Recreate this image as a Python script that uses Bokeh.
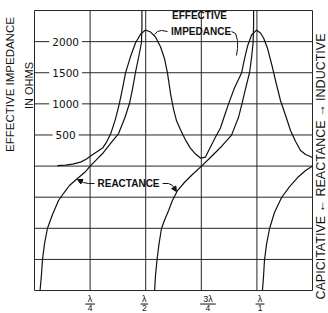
import math
from bokeh.plotting import figure
from bokeh.models import Range1d, Arrow, NormalHead
from bokeh.core.properties import value
from bokeh.embed import file_html
from bokeh.resources import INLINE

# ---------------- data (antenna length in wavelengths, ohms) ----------------
x_grid = [0.0, 0.25, 0.5, 0.75, 1.0, 1.25]
y_grid = [-2000, -1500, -1000, -500, 0, 500, 1000, 1500, 2000, 2500]

x_ticks = [0.25, 0.5, 0.75, 1.0]
x_tick_num = ["λ", "λ", "3λ", "λ"]
x_tick_den = ["4", "2", "4", "1"]

y_ticks = [2000, 1500, 1000, 500]
y_tick_labels = ["2000", "1500", "1000", "500"]

# effective impedance
imp_len = [0.103, 0.139, 0.171, 0.207, 0.234, 0.252, 0.279, 0.306, 0.324, 0.342,
           0.364, 0.382, 0.396, 0.409, 0.431, 0.454, 0.477, 0.499, 0.522, 0.544,
           0.567, 0.585, 0.598, 0.612, 0.625, 0.639, 0.657, 0.679, 0.701, 0.724,
           0.746, 0.769, 0.782, 0.814, 0.836, 0.854, 0.872, 0.899, 0.931, 0.944,
           0.958, 0.976, 0.998, 1.016, 1.030, 1.048, 1.070, 1.088, 1.106, 1.129,
           1.151, 1.174, 1.196, 1.219, 1.250]
imp_ohm = [8, 16, 32, 64, 113, 161, 225, 289, 386, 514,
           755, 1013, 1254, 1495, 1752, 1977, 2121, 2186, 2154, 2074,
           1913, 1720, 1495, 1157, 916, 723, 579, 418, 289, 193,
           129, 145, 241, 466, 611, 804, 996, 1254, 1495, 1720,
           1929, 2106, 2186, 2138, 2058, 1889, 1584, 1311, 1054, 813,
           571, 395, 250, 186, 138]

# reactance, three branches
react1_len = [0.025, 0.031, 0.036, 0.045, 0.058, 0.081, 0.108, 0.130, 0.157, 0.193,
              0.225, 0.250, 0.279, 0.306, 0.342, 0.378, 0.405, 0.427, 0.441, 0.454,
              0.468, 0.481, 0.483, 0.483]
react1_ohm = [-2000, -1759, -1502, -1245, -1003, -778, -553, -441, -312, -200,
              -104, 0, 105, 202, 363, 523, 764, 1005, 1246, 1504,
              1745, 1986, 2243, 2500]

react2_len = [0.540, 0.544, 0.551, 0.560, 0.571, 0.584, 0.603, 0.620, 0.643, 0.674,
              0.710, 0.751, 0.791, 0.836, 0.886, 0.917, 0.933, 0.949, 0.967, 0.976,
              0.983, 0.985, 0.985]
react2_ohm = [-2000, -1759, -1502, -1245, -1003, -875, -714, -553, -393, -264,
              -136, 0, 138, 298, 498, 780, 1005, 1246, 1504, 1745,
              1986, 2243, 2500]

react3_len = [1.025, 1.030, 1.034, 1.043, 1.057, 1.079, 1.111, 1.147, 1.183, 1.219, 1.250]
react3_ohm = [-2000, -1759, -1518, -1261, -1003, -746, -505, -329, -184, -71, 0]

# ---------------- figure ----------------
FONT = "Liberation Sans"
INK = "#111111"

p = figure(width=328, height=313,
           x_range=Range1d(-0.1529, 1.3219), y_range=Range1d(-2369, 2661),
           output_backend="svg", toolbar_location=None,
           x_axis_location=None, y_axis_location=None,
           min_border=0, background_fill_color="white", border_fill_color="white")
p.outline_line_color = None
p.grid.visible = False

# grid + frame
ny = len(y_grid)
nx = len(x_grid)
p.segment(x0=x_grid, y0=[y_grid[0]] * nx, x1=x_grid, y1=[y_grid[-1]] * nx,
          line_color="#262626", line_width=1)
p.segment(x0=[x_grid[0]] * ny, y0=y_grid, x1=[x_grid[-1]] * ny, y1=y_grid,
          line_color="#262626", line_width=1)

# y tick labels inside the frame, breaking the grid lines
p.text(x=[0.14] * len(y_ticks), y=y_ticks, text=y_tick_labels,
       text_align="center", text_baseline="middle",
       text_font=value("DejaVu Sans"), text_font_size="10.5px", text_color=INK,
       background_fill_color="white", padding=3)

# curves
p.line(imp_len, imp_ohm, line_color=INK, line_width=1.2)
p.line(react1_len, react1_ohm, line_color=INK, line_width=1.2)
p.line(react2_len, react2_ohm, line_color=INK, line_width=1.2)
p.line(react3_len, react3_ohm, line_color=INK, line_width=1.2)

# x tick labels as fractions below the frame
num_off = [0.0, -0.006, 0.03, 0.014]
bar_half = [0.022, 0.017, 0.035, 0.02]
xc = [t + o for t, o in zip(x_ticks, num_off)]
p.text(x=xc, y=[-2144] * 4, text=x_tick_num, text_align="center", text_baseline="middle",
       text_font=value(FONT), text_font_size="9px", text_color=INK)
p.segment(x0=[c - h for c, h in zip(xc, bar_half)], y0=[-2217] * 4,
          x1=[c + h for c, h in zip(xc, bar_half)], y1=[-2217] * 4,
          line_color=INK, line_width=1)
p.text(x=xc, y=[-2281] * 4, text=x_tick_den, text_align="center", text_baseline="middle",
       text_font=value(FONT), text_font_size="8.5px", text_color=INK)

# annotations
p.text(x=[0.742], y=[2420], text=["EFFECTIVE"], text_align="center", text_baseline="middle",
       text_font=value(FONT), text_font_size="10px", text_font_style="bold", text_color=INK)
p.text(x=[0.749], y=[2163], text=["IMPEDANCE"], text_align="center", text_baseline="middle",
       text_font=value(FONT), text_font_size="10px", text_font_style="bold", text_color=INK)
p.text(x=[0.4227], y=[-280], text=["REACTANCE"], text_align="center", text_baseline="middle",
       text_font=value(FONT), text_font_size="10px", text_font_style="bold", text_color=INK)

# leader lines
p.line([0.598, 0.571, 0.553, 0.540], [2163, 2179, 2163, 2114], line_color=INK, line_width=1)
p.line([0.886, 0.904, 0.913, 0.913, 0.908], [2163, 2130, 2018, 1889, 1777], line_color=INK, line_width=1)
p.line([0.270, 0.243, 0.220], [-280, -280, -264], line_color=INK, line_width=1)
p.add_layout(Arrow(end=NormalHead(size=5, fill_color=INK, line_color=INK, line_width=1),
                   x_start=0.220, y_start=-264, x_end=0.193, y_end=-216,
                   line_color=INK, line_width=1))
p.line([0.576, 0.603, 0.621], [-280, -280, -312], line_color=INK, line_width=1)
p.add_layout(Arrow(end=NormalHead(size=5, fill_color=INK, line_color=INK, line_width=1),
                   x_start=0.621, y_start=-312, x_end=0.638, y_end=-409,
                   line_color=INK, line_width=1))

# axis titles
p.text(x=[-0.108], y=[1311], text=["EFFECTIVE IMPEDANCE"], angle=math.pi / 2,
       text_align="center", text_baseline="middle",
       text_font=value(FONT), text_font_size="11.5px", text_color=INK)
p.text(x=[-0.027], y=[1295], text=["IN OHMS"], angle=math.pi / 2,
       text_align="center", text_baseline="middle",
       text_font=value(FONT), text_font_size="11px", text_color=INK)
p.text(x=[1.288], y=[-7], text=["CAPICITATIVE ← REACTANCE → INDUCTIVE"], angle=math.pi / 2,
       text_align="center", text_baseline="middle",
       text_font=value(FONT), text_font_size="12.5px", text_color=INK)

open("out.html", "w").write(file_html(p, INLINE))
